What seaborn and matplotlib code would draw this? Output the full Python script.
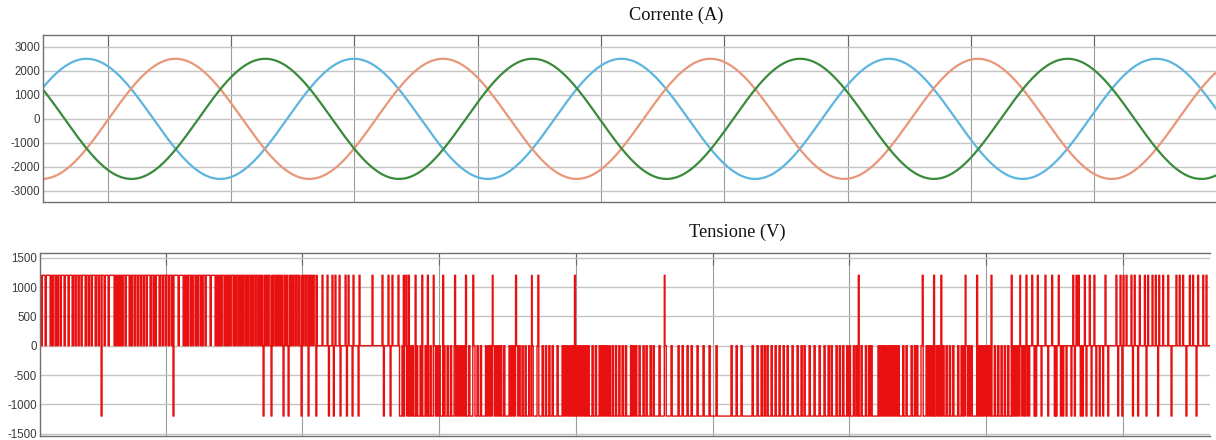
import numpy as np
import pandas as pd
import matplotlib
matplotlib.use("Agg")
import matplotlib.pyplot as plt
import seaborn as sns

# ---------------- data: top panel (three-phase currents) ----------------
phases = ["Ia", "Ib", "Ic"]
phase_colors = ["#5cb5de", "#e8977a", "#3a8a3c"]
current_amp_A = [2500, 2500, 2500]
current_period_ms = 21.7
current_peak_ms = [8.26, 15.48, 22.76]
cur_xlim_ms = [4.73, 100.14]
cur_ticks_A = [-3000, -2000, -1000, 0, 1000, 2000, 3000]
cur_xgrid_ms = [10, 20, 30, 40, 50, 60, 70, 80, 90]

# ---------------- data: bottom panel (PWM line voltage) ----------------
base_start_ms = [0.80, 21.15, 27.10, 73.20]
base_level_V = [1200, 0, -1200, 0]
notch_to_zero_ms = [
    0.88, 1.17, 1.54, 1.68, 1.90, 2.05, 2.27, 2.56, 2.85, 3.15, 3.36, 3.58, 3.80, 4.10,
    4.32, 4.54, 4.83, 5.05, 5.49, 5.78, 6.22, 6.36, 6.51, 6.66, 6.80, 7.02, 7.32, 7.46,
    7.68, 7.90, 8.12, 8.34, 8.56, 8.85, 9.07, 9.22, 9.51, 9.73, 9.95, 10.17, 10.39,
    10.90, 11.27, 11.41, 11.56, 11.78, 11.92, 12.14, 12.29, 12.51, 12.65, 12.87, 13.24,
    13.61, 13.75, 13.90, 14.04, 14.26, 14.41, 14.56, 14.70, 14.92, 15.07, 15.27, 15.43,
    15.60, 15.80, 15.97, 16.17, 16.33, 16.53, 16.73, 16.90, 17.07, 17.26, 17.43, 17.63,
    17.80, 18.00, 18.19, 18.36, 18.53, 18.73, 18.89, 19.09, 19.26, 19.46, 19.66, 19.82,
    19.99, 20.19, 20.39, 20.56, 20.72, 20.92, 21.07,
    27.28, 27.47, 27.65, 27.83, 28.02, 28.34, 28.60, 28.97, 29.33, 29.63, 29.81, 29.99,
    30.34, 30.58, 30.82, 31.09, 31.27, 31.45, 31.64, 31.82, 32.16, 32.53, 32.77, 33.01,
    33.39, 33.58, 33.76, 33.94, 34.12, 34.31, 34.49, 34.72, 35.11, 35.30, 35.48, 35.66,
    35.84, 36.06, 36.28, 36.55, 36.79, 37.16, 37.53, 37.77, 38.02, 38.26, 38.62, 38.99,
    39.17, 39.35, 39.54, 39.72, 39.98, 40.16, 40.34, 40.53, 40.71, 40.89, 41.18, 41.42,
    41.70, 41.88, 42.06, 42.24, 42.43, 42.65, 42.89, 43.14, 43.38, 43.62, 44.00, 44.18,
    44.37, 44.62, 44.91, 45.13, 45.43, 45.65, 46.08, 46.52, 46.96, 47.47, 47.77, 48.13,
    48.43, 48.86, 49.30, 49.74, 50.25, 51.35, 51.72, 52.08, 52.89, 53.25, 53.55, 53.77,
    53.98, 54.28, 54.57, 54.86, 55.16, 55.45, 55.81, 56.18, 56.47, 56.69, 57.06, 57.42,
    57.79, 58.15, 58.45, 58.67, 59.03, 59.27, 59.52, 59.81, 60.00, 60.30, 60.50, 60.86,
    61.18, 61.42, 61.59, 62.10, 62.29, 62.47, 62.65, 62.84, 63.02, 63.20, 63.38, 63.57,
    63.91, 64.15, 64.52, 64.76, 64.93, 65.25, 65.62, 65.80, 65.98, 66.35, 66.53, 66.85,
    67.08, 67.32, 67.57, 67.93, 68.18, 68.36, 68.54, 68.72, 68.91, 69.49, 69.68, 69.86,
    70.04, 70.22, 70.61, 70.86, 71.10, 71.34, 71.59, 71.98, 72.16, 72.35, 72.53, 72.71,
    72.89, 73.08,
]
spike_pos_ms = [
    21.43, 21.80, 22.16, 22.38, 22.68, 23.12, 23.34, 23.70, 24.14, 25.09, 25.82, 26.26,
    26.55, 26.99, 27.38, 27.56, 27.75, 28.24, 28.73, 29.14, 29.57, 30.26, 31.13, 31.93,
    32.46, 33.89, 35.59, 36.76, 37.22, 39.90, 46.47, 60.66, 65.34, 66.17, 66.70, 68.48,
    69.32, 70.37, 71.85, 72.49, 72.93, 73.35, 73.76, 74.32, 74.81, 75.29, 76.35, 76.59,
    76.76, 77.20, 77.56, 77.90, 78.71, 79.51, 79.81, 80.03, 80.25, 80.61, 80.85, 81.22,
    81.59, 81.83, 82.15, 82.39, 82.64, 82.93, 83.30, 83.90, 84.14, 84.39, 84.88, 85.12,
    85.49, 85.86, 86.10,
]
spike_neg_ms = [
    5.27, 10.53, 17.12, 17.70, 18.58, 18.95, 19.90, 20.41, 20.98, 21.90, 22.26, 22.75,
    23.22, 23.63, 24.07, 25.92, 26.41, 73.52, 73.64, 74.03, 74.52, 75.00, 75.13, 75.45,
    75.62, 75.86, 76.22, 76.47, 76.90, 77.05, 77.32, 77.69, 78.04, 78.29, 78.54, 78.91,
    79.64, 79.94, 80.72, 81.10, 81.71, 82.56, 83.54, 84.63, 85.37,
]
notch_width_ms = 0.09
spike_width_ms = 0.07
volt_xlim_ms = [0.80, 86.39]
volt_ticks_V = [-1500, -1000, -500, 0, 500, 1000, 1500]
volt_xgrid_ms = [10, 20, 30, 40, 50, 60, 70, 80]

# ---------------- build tables ----------------
t_cur = np.linspace(cur_xlim_ms[0], cur_xlim_ms[1], 3000)
rows = []
for name, amp, tp in zip(phases, current_amp_A, current_peak_ms):
    rows.append(pd.DataFrame({"t": t_cur, "i": amp * np.cos(2 * np.pi * (t_cur - tp) / current_period_ms),
                              "phase": name}))
df_cur = pd.concat(rows, ignore_index=True)

t_v = np.arange(volt_xlim_ms[0], volt_xlim_ms[1], 0.005)
v = np.array(base_level_V, dtype=float)[np.searchsorted(base_start_ms, t_v, side="right") - 1]
events = [(s, 0.0, notch_width_ms) for s in notch_to_zero_ms] + \
         [(s, 1200.0, spike_width_ms) for s in spike_pos_ms] + \
         [(s, -1200.0, spike_width_ms) for s in spike_neg_ms]
events.sort()
for s, lvl, w in events:
    v[(t_v >= s) & (t_v < s + w)] = lvl
idx = np.r_[0, np.nonzero(np.diff(v))[0] + 1]
tx = np.r_[t_v[idx], t_v[-1]]
vy = np.r_[v[idx], v[-1]]
df_v = pd.DataFrame({"t": tx, "v": vy})

# ---------------- style ----------------
sns.set_style("white")
plt.rcParams["font.family"] = ["Liberation Sans", "DejaVu Sans"]

W, H = 1216, 440
fig = plt.figure(figsize=(W / 100, H / 100), dpi=100)
ax1 = fig.add_axes([43 / W, 1 - 202 / H, (1219 - 43) / W, 167 / H])
ax2 = fig.add_axes([40 / W, 1 - 436 / H, 1170 / W, 183 / H])

sns.lineplot(data=df_cur, x="t", y="i", hue="phase", palette=phase_colors, estimator=None,
             sort=False, legend=False, lw=1.6, ax=ax1)
sns.lineplot(data=df_v, x="t", y="v", estimator=None, sort=False, drawstyle="steps-post",
             color="#e81010", lw=1.0, ax=ax2)

for ax, yt, xg, xl, yl in [(ax1, cur_ticks_A, cur_xgrid_ms, cur_xlim_ms, (-3460, 3490)),
                           (ax2, volt_ticks_V, volt_xgrid_ms, volt_xlim_ms, (-1540, 1580))]:
    ax.set_xlim(*xl)
    ax.set_ylim(*yl)
    ax.set_yticks(yt)
    ax.set_yticklabels([str(y) for y in yt])
    ax.set_xticks(xg)
    ax.set_xlabel("")
    ax.set_ylabel("")
    ax.set_axisbelow(True)
    ax.grid(True, axis="y", color="#c4c4c4", lw=1.0)
    ax.grid(True, axis="x", color="#9c9c9c", lw=0.8)
    ax.tick_params(axis="both", direction="in", length=8.6, width=0.8, color="#666666",
                   top=True, right=False, labelbottom=False, labelsize=8.3,
                   labelcolor="#3a3a3a", pad=2)
    for sp in ["left", "top", "bottom"]:
        ax.spines[sp].set_color("#707070")
        ax.spines[sp].set_linewidth(1.0)
        ax.spines[sp].set_visible(True)
    ax.spines["right"].set_visible(False)
    ax.patch.set_facecolor("white")

fig.text(676 / W, 1 - 15.8 / H, "Corrente (A)", ha="center", va="center",
         family=["Liberation Serif", "DejaVu Serif"], fontsize=13.2, color="#111111")
fig.text(737 / W, 1 - 232.5 / H, "Tensione (V)", ha="center", va="center",
         family=["Liberation Serif", "DejaVu Serif"], fontsize=13.2, color="#111111")

fig.savefig("out.png", dpi=100)
